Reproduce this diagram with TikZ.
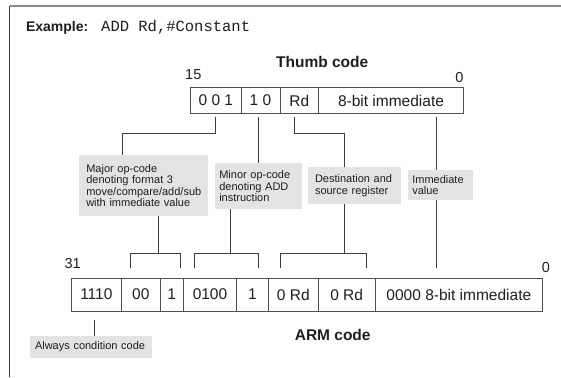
\documentclass[tikz,border=0pt]{standalone}
\usepackage{fontspec}
\setmainfont{Liberation Sans}
\setmonofont{Liberation Mono}
\usetikzlibrary{calc}
\definecolor{framegray}{HTML}{8A8A8A}
\definecolor{frameleft}{HTML}{3A3A3A}
\definecolor{cellline}{HTML}{505050}
\definecolor{connline}{HTML}{3C3C3C}
\definecolor{txt}{HTML}{1E1E1E}
\definecolor{notefill}{HTML}{E3E3E3}
\tikzset{
 cell/.style={draw=cellline, line width=0.9pt, inner sep=0pt, outer sep=0pt, text=txt, font=\fontsize{15.5}{18}\selectfont},
 note/.style={fill=notefill, inner ysep=0pt, outer sep=0pt, align=left, anchor=north west, text=txt, font=\fontsize{11}{11.5}\selectfont},
 conn/.style={draw=connline, line width=0.9pt},
 bitnum/.style={anchor=base, inner sep=0pt, text=txt, font=\fontsize{14.5}{17}\selectfont},
 titletext/.style={anchor=base, inner sep=0pt, text=txt, font=\fontsize{15.5}{18}\selectfont\bfseries},
}
\begin{document}
\begin{tikzpicture}[x=1pt,y=-1pt]
\useasboundingbox (0,0) rectangle (561,377);
% frame
\draw[framegray, line width=1.6pt] (9.7,6) -- (561,6);
\draw[frameleft, line width=1pt] (9.7,6) -- (9.7,377);
% heading
\node[anchor=base west, inner sep=0pt, text=txt] (ex) at (25.8,32) {\fontsize{14}{17}\selectfont\bfseries Example:\hspace{13pt}\mdseries\ttfamily\fontsize{15.5}{17}\selectfont ADD Rd,\#Constant};
% thumb
\node[titletext] (thumbt) at (322.2,67.8) {Thumb code};
\node[bitnum] (n15) at (193.3,80) {15};
\node[bitnum] (n0t) at (459.3,82.5) {0};
\node[cell, minimum width=50.3pt, minimum height=25.6pt] (t1) at (215.85,100.5) {0 0 1};
\node[cell, minimum width=39pt, minimum height=25.6pt] (t2) at (260.5,100.5) {1 0};
\node[cell, minimum width=38.7pt, minimum height=25.6pt] (t3) at (299.35,100.5) {Rd};
\node[cell, minimum width=144.6pt, minimum height=25.6pt] (t4) at (391,100.5) {8-bit immediate};
% arm
\node[bitnum] (n31) at (72.7,268.3) {31};
\node[bitnum] (n0a) at (546,272.7) {0};
\node[cell, minimum width=50.7pt, minimum height=32.7pt] (a1) at (96.35,294.65) {1110};
\node[cell, minimum width=38.3pt, minimum height=32.7pt] (a2) at (140.85,294.65) {00};
\node[cell, minimum width=23.3pt, minimum height=32.7pt] (a3) at (171.65,294.65) {1};
\node[cell, minimum width=53.4pt, minimum height=32.7pt] (a4) at (210,294.65) {0100};
\node[cell, minimum width=31.6pt, minimum height=32.7pt] (a5) at (252.5,294.65) {1};
\node[cell, minimum width=50pt, minimum height=32.7pt] (a6) at (293.3,294.65) {0 Rd};
\node[cell, minimum width=56.7pt, minimum height=32.7pt] (a7) at (346.65,294.65) {0 Rd};
\node[cell, minimum width=167.7pt, minimum height=32.7pt] (a8) at (458.85,294.65) {0000 8-bit immediate};
\node[titletext] (armt) at (332.7,340.5) {ARM code};
% connector end points
\coordinate (tk1) at (215.7,117);
\coordinate (tk2) at (258.3,117);
\coordinate (tk3) at (294,117);
\coordinate (tk4) at (436.7,117);
\coordinate (ie) at (436.7,268.3);
\coordinate (m1) at (158.3,253.3);
\coordinate (m2) at (230,253.3);
\coordinate (m3) at (344,253.3);
\coordinate (b1l) at (130,268.3);
\coordinate (b1r) at (180,268.3);
\coordinate (b2l) at (194,268.3);
\coordinate (b2r) at (258.3,268.3);
\coordinate (b3l) at (280,268.3);
\coordinate (b3r) at (366,268.3);
\coordinate (awt) at (94,320);
% immediate line (passes behind its note)
\draw[conn] (tk4) -- (ie);
% notes
\node[note, minimum width=129pt, minimum height=61pt, inner xsep=7pt, text width=115pt] (maj) at (79.3,155) {Major op-code\\denoting format 3\\move/compare/add/sub\\with immediate value};
\node[note, minimum width=86.6pt, minimum height=45.7pt, inner xsep=4.3pt, text width=78pt] (mnr) at (215,163.3) {Minor op-code\\denoting ADD\\instruction};
\node[note, minimum width=92.7pt, minimum height=37.6pt, inner xsep=6.7pt, text width=79.3pt] (dst) at (308.3,166.7) {Destination and\\source register};
\node[note, minimum width=64.4pt, minimum height=30pt, inner xsep=4pt, text width=56.4pt] (imm) at (408.3,170) {Immediate\\value};
\node[note, minimum width=121.7pt, minimum height=22.6pt, inner xsep=5pt, text width=111.7pt] (aw) at (30,335.7) {Always condition code};
% upper connectors
\draw[conn] (tk1) -- ++(0,16.3) -| ([xshift=43.4pt]maj.north west);
\draw[conn] (tk2) -- (tk2 |- mnr.north);
\draw[conn] (tk3) -- ++(0,16.3) -| ([xshift=35.7pt]dst.north west);
% lower connectors
\draw[conn] (m1 |- maj.south) -- (m1);
\draw[conn] (m2 |- mnr.south) -- (m2);
\draw[conn] (m3 |- dst.south) -- (m3);
\draw[conn] (b1l) -- (b1l |- m1) -- (b1r |- m1) -- (b1r);
\draw[conn] (b2l) -- (b2l |- m2) -- (b2r |- m2) -- (b2r);
\draw[conn] (b3l) -- (b3l |- m3) -- (b3r |- m3) -- (b3r);
\draw[conn] (awt) -- (awt |- aw.north);
\end{tikzpicture}
\end{document}
